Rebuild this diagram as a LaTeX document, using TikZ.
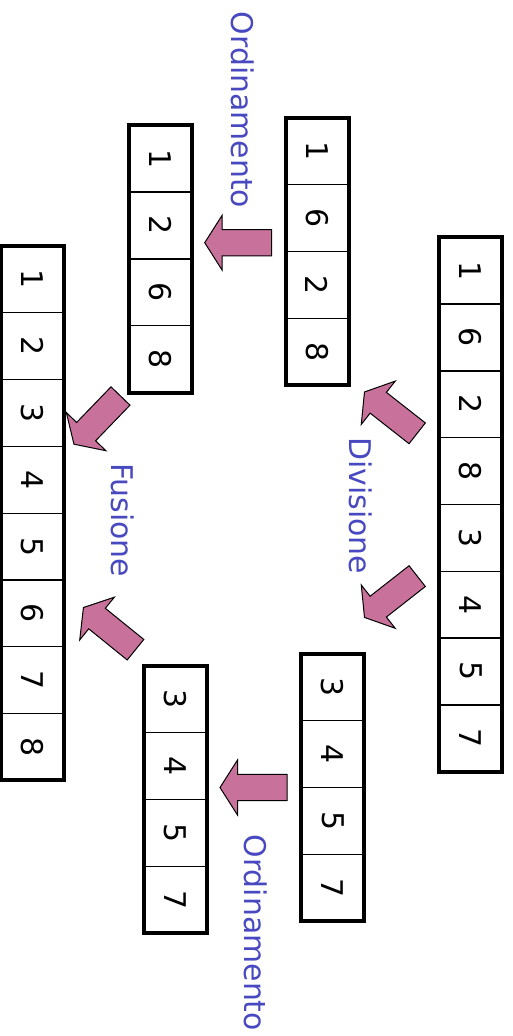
\documentclass[tikz,border=0pt]{standalone}
\usepackage{fontspec}
\setmainfont{DejaVu Sans}
\definecolor{lblblue}{RGB}{72,72,192}
\definecolor{arrpink}{RGB}{199,113,155}
\tikzset{
 cellbox/.style={draw=black, line width=1.3pt, rotate=-90, minimum width=66.8pt, minimum height=63pt, inner sep=0pt, font=\fontsize{29.9}{32}\selectfont},
 outerbox/.style={draw=black, line width=4pt},
 lbl/.style={text=lblblue, rotate=-90, anchor=base west, inner sep=0pt, font=\fontsize{29.9}{32}\selectfont},
 blockarr/.style={fill=arrpink, draw=black, line width=1pt, line join=miter},
}
\newcommand\cellcol[5]{%
 \foreach \v [count=\i] in {#5} {
   \node[cellbox] (#1-\i) at ({#2+31.5}, {-(#3+(\i-0.5)*66.8)}) {\v};
 }
 \draw[outerbox] (#2,-#3) rectangle ({#2+63}, {-(#3+#4*66.8)});
}
\newcommand\blockarrow[3]{%
 \draw[blockarr, shift={(#1,-#2)}, rotate=#3] (0,13.2) -- (49.5,13.2) -- (49.5,27.5) -- (67,0) -- (49.5,-27.5) -- (49.5,-13.2) -- (0,-13.2) -- cycle;
}
\begin{document}
\begin{tikzpicture}[x=1pt,y=1pt]
\path[use as bounding box] (0,0) rectangle (513,-1036);
\cellcol{R}{439.3}{237.3}{8}{1,6,2,8,3,4,5,7}
\cellcol{TM}{285.5}{118}{4}{1,6,2,8}
\cellcol{TL}{129.3}{125.3}{4}{1,2,6,8}
\cellcol{L}{1}{246}{8}{1,2,3,4,5,6,7,8}
\cellcol{BM}{301.3}{654}{4}{3,4,5,7}
\cellcol{BL}{144}{666}{4}{3,4,5,7}
\blockarrow{417.2}{433.3}{141.9}
\blockarrow{417.2}{576.1}{218.1}
\blockarrow{271.7}{242.7}{180}
\blockarrow{287}{787.5}{180}
\blockarrow{120.5}{396}{226}
\blockarrow{135.5}{649.7}{141}
\node[lbl] (ordA) at (231.7,-11.7) {Ordinamento};
\node[lbl] (div) at (349,-437) {Divisione};
\node[lbl] (fus) at (111,-463) {Fusione};
\node[lbl] (ordB) at (244,-834.4) {Ordinamento};
\end{tikzpicture}
\end{document}
